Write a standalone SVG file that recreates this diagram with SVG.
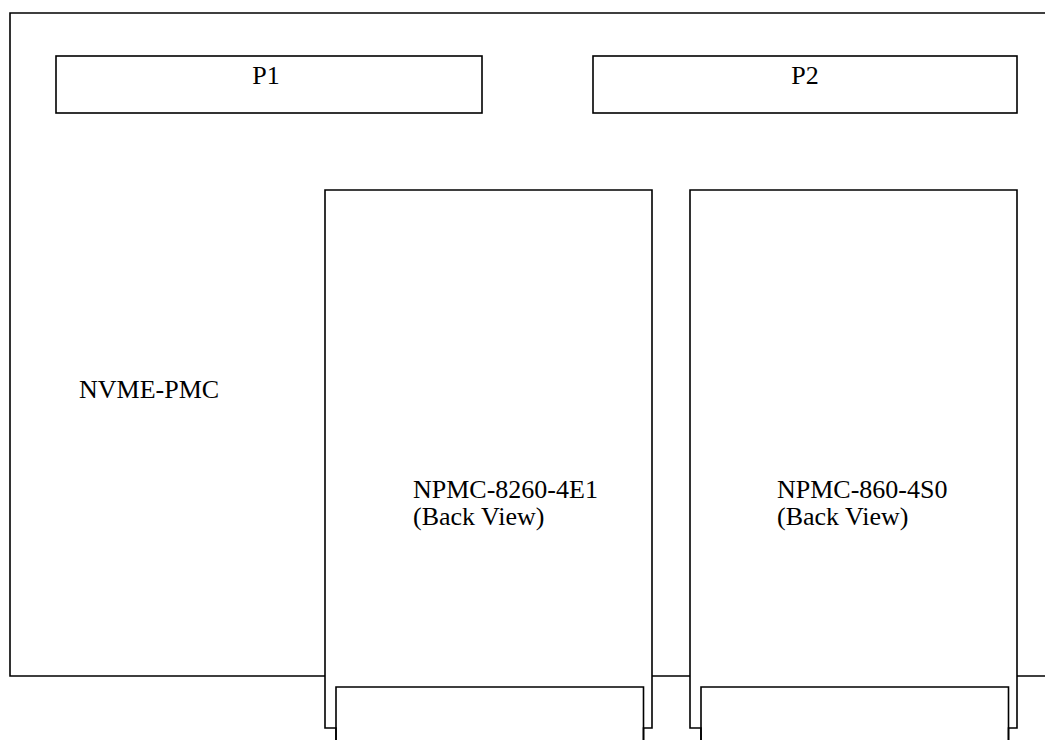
<svg xmlns="http://www.w3.org/2000/svg" width="1045" height="740" viewBox="0 0 1045 740">
<style>
.ln{fill:none;stroke:#000;stroke-width:1.6;stroke-linejoin:miter}
.bx{fill:#fff;stroke:#000;stroke-width:1.6}
.t{font-family:"Liberation Serif","Times New Roman",serif;font-size:26px;fill:#000}
</style>
<rect width="1045" height="740" fill="#fff"/>
<g id="nvme-pmc">
<path class="ln" d="M1046,13 H10 V676 H325 M652,676 H690 M1017,676 H1046"/>
<text class="t" x="79" y="398">NVME-PMC</text>
</g>
<g id="p1">
<rect class="bx" x="56" y="56" width="426" height="57"/>
<text class="t" x="266" y="84" text-anchor="middle">P1</text>
</g>
<g id="p2">
<rect class="bx" x="593" y="56" width="424" height="57"/>
<text class="t" x="805" y="84" text-anchor="middle">P2</text>
</g>
<g id="npmc-8260">
<path class="ln" d="M336,741 V728 H325 V190 H652 V728 H643.5 V741"/>
<path class="ln" d="M336,741 V687 H643.5 V741"/>
<text class="t" x="413" y="498">NPMC-8260-4E1</text>
<text class="t" x="413" y="525">(Back View)</text>
</g>
<g id="npmc-860">
<path class="ln" d="M701,741 V728 H690 V190 H1017 V728 H1008.5 V741"/>
<path class="ln" d="M701,741 V687 H1008.5 V741"/>
<text class="t" x="777" y="498">NPMC-860-4S0</text>
<text class="t" x="777" y="525">(Back View)</text>
</g>
<g id="connectors"/>
</svg>
